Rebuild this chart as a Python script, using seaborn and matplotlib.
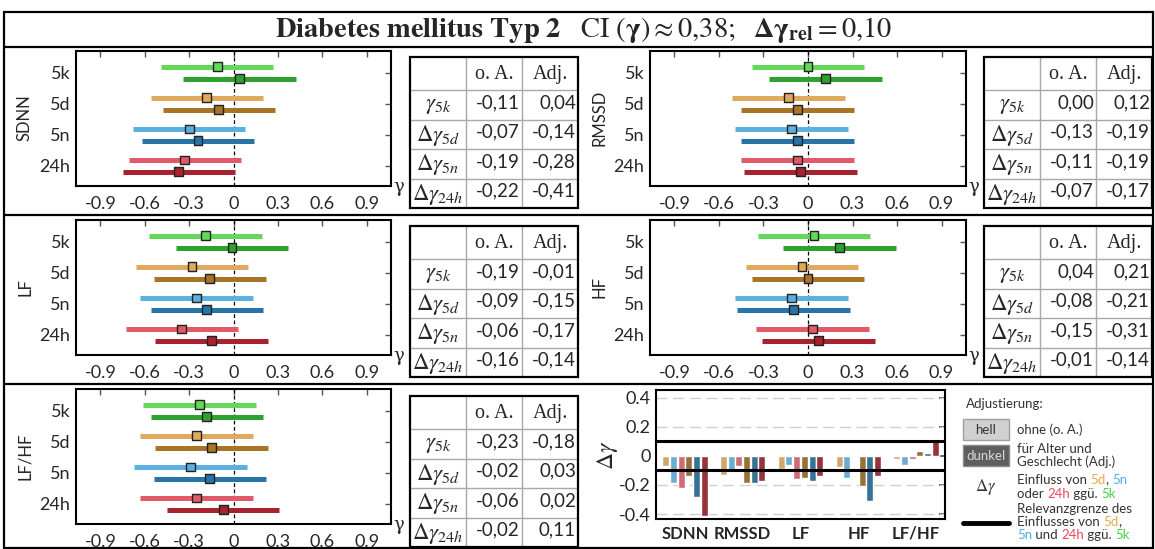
import matplotlib
matplotlib.use('Agg')
import matplotlib.pyplot as plt
import numpy as np
import pandas as pd
import seaborn as sns
from matplotlib.patches import Rectangle
from matplotlib.offsetbox import TextArea, HPacker, VPacker, AnnotationBbox

sns.set_theme(style='white')
plt.rcParams['font.family'] = ['Lato', 'DejaVu Sans']
plt.rcParams['mathtext.fontset'] = 'stix'
plt.rcParams['axes.unicode_minus'] = False

W, H = 1155, 549

# ---- data ----
times = ['5k', '5d', '5n', '24h']
metrics = ['SDNN', 'RMSSD', 'LF', 'HF', 'LF/HF']
ci_half = 0.38  # CI(gamma) ~ 0,38

# point estimates gamma (o. A. = hell, Adj. = dunkel), order 5k, 5d, 5n, 24h
sdnn_oa = [-0.11, -0.18, -0.30, -0.33]
sdnn_adj = [0.04, -0.10, -0.24, -0.37]
rmssd_oa = [0.00, -0.13, -0.11, -0.07]
rmssd_adj = [0.12, -0.07, -0.07, -0.05]
lf_oa = [-0.19, -0.28, -0.25, -0.35]
lf_adj = [-0.01, -0.16, -0.18, -0.15]
hf_oa = [0.04, -0.04, -0.11, 0.03]
hf_adj = [0.21, 0.00, -0.10, 0.07]
lfhf_oa = [-0.23, -0.25, -0.29, -0.25]
lfhf_adj = [-0.18, -0.15, -0.16, -0.07]

# table values: gamma_5k, dgamma_5d, dgamma_5n, dgamma_24h
tab_sdnn_oa = [-0.11, -0.07, -0.19, -0.22]
tab_sdnn_adj = [0.04, -0.14, -0.28, -0.41]
tab_rmssd_oa = [0.00, -0.13, -0.11, -0.07]
tab_rmssd_adj = [0.12, -0.19, -0.19, -0.17]
tab_lf_oa = [-0.19, -0.09, -0.06, -0.16]
tab_lf_adj = [-0.01, -0.15, -0.17, -0.14]
tab_hf_oa = [0.04, -0.08, -0.15, -0.01]
tab_hf_adj = [0.21, -0.21, -0.31, -0.14]
tab_lfhf_oa = [-0.23, -0.02, -0.06, -0.02]
tab_lfhf_adj = [-0.18, 0.03, 0.02, 0.11]

row_labels = [r'$\gamma_{5k}$', r'$\Delta\gamma_{5d}$', r'$\Delta\gamma_{5n}$', r'$\Delta\gamma_{24h}$']
xticks = [-0.9, -0.6, -0.3, 0, 0.3, 0.6, 0.9]
xticklabels = ['-0.9', '-0.6', '-0.3', '0', '0.3', '0.6', '0.9']

light = {'5k': '#64d85a', '5d': '#e0aa5c', '5n': '#5cb0e0', '24h': '#e05a68'}
dark = {'5k': '#2ea22e', '5d': '#a87426', '5n': '#2874a6', '24h': '#a8222f'}
palette = {}
for t in times:
    palette['oa' + t] = light[t]
    palette['adj' + t] = dark[t]

fig = plt.figure(figsize=(W / 100, H / 100), dpi=100)


def px_axes(x0, y0, x1, y1):
    return fig.add_axes([x0 / W, 1 - y1 / H, (x1 - x0) / W, (y1 - y0) / H])


def forest(ax, oa, adj):
    df = pd.DataFrame({'time': times * 2, 'kind': ['oa'] * 4 + ['adj'] * 4, 'est': oa + adj})
    df['y'] = [i - 0.19 for i in range(4)] + [i + 0.19 for i in range(4)]
    df['key'] = df['kind'] + df['time']
    cols = [palette[k] for k in df['key']]
    ax.hlines(df['y'], df['est'] - ci_half, df['est'] + ci_half, colors=cols, lw=3.6, zorder=2)
    sns.scatterplot(data=df, x='est', y='y', hue='key', palette=palette, marker='s', s=40,
                    edgecolor='#222222', linewidth=1.0, legend=False, ax=ax, zorder=3)
    ax.axvline(0, color='black', lw=0.9, ls=(0, (3, 2)), zorder=1)
    ax.set_xlim(-1.065, 1.065)
    ax.set_ylim(3.65, -0.7)
    ax.set_yticks(range(4))
    ax.set_yticklabels(times)
    ax.set_xticks(xticks)
    ax.set_xticklabels(xticklabels)
    ax.set_xlabel('')
    ax.set_ylabel('')
    ax.tick_params(direction='in', top=True, right=True, length=4, width=1, color='#555555',
                   labelsize=13, pad=4)
    ax.tick_params(axis='x', pad=7)
    for s in ax.spines.values():
        s.set_color('black')
        s.set_linewidth(1.5)
    ax.text(1.006, -0.01, 'γ', transform=ax.transAxes, family='DejaVu Serif', fontsize=13,
            ha='left', va='center')


panels = [
    ('SDNN', sdnn_oa, sdnn_adj, tab_sdnn_oa, tab_sdnn_adj, 0, 0),
    ('RMSSD', rmssd_oa, rmssd_adj, tab_rmssd_oa, tab_rmssd_adj, 1, 0),
    ('LF', lf_oa, lf_adj, tab_lf_oa, tab_lf_adj, 0, 1),
    ('HF', hf_oa, hf_adj, tab_hf_oa, tab_hf_adj, 1, 1),
    ('LF/HF', lfhf_oa, lfhf_adj, tab_lfhf_oa, tab_lfhf_adj, 0, 2),
]
col_x = [(76, 391), (650, 966)]
row_top = [51, 220, 389]
ylab_x = [25, 600]
tab_x = [410, 984]
tab_top = [57, 226, 396]

# overlay in pixel coordinates for frame, tables and legend
ov = fig.add_axes([0, 0, 1, 1])
ov.set_xlim(0, W)
ov.set_ylim(H, 0)
ov.axis('off')


def fmt(v):
    return f'{v:.2f}'.replace('.', ',')


def table(x0, y0, oa, adj):
    cw = [56, 56, 56]
    rh = [33, 29.5, 29.5, 29.5, 29.5]
    xs = np.cumsum([x0] + cw)
    ys = np.cumsum([y0] + rh)
    for xv in xs[1:-1]:
        ov.plot([xv, xv], [ys[0], ys[-1]], color='#a8a8a8', lw=1, zorder=2)
    for yv in ys[1:-1]:
        ov.plot([xs[0], xs[-1]], [yv, yv], color='#a8a8a8', lw=1, zorder=2)
    ov.add_patch(Rectangle((xs[0], ys[0]), xs[-1] - xs[0], ys[-1] - ys[0], fill=False,
                           edgecolor='black', lw=1.6, zorder=3))
    yc = (ys[:-1] + ys[1:]) / 2
    ov.text((xs[1] + xs[2]) / 2, yc[0] + 1, 'o. A.', family='Liberation Serif', fontsize=14.5,
            ha='center', va='center')
    ov.text((xs[2] + xs[3]) / 2, yc[0] + 1, 'Adj.', family='Liberation Serif', fontsize=14.5,
            ha='center', va='center')
    for i in range(4):
        ov.text((xs[0] + xs[1]) / 2, yc[i + 1] + 1, row_labels[i], fontsize=16.5, ha='center',
                va='center')
        ov.text(xs[2] - 2, yc[i + 1] - 2, fmt(oa[i]), fontsize=13.5, ha='right', va='center')
        ov.text(xs[3] - 2, yc[i + 1] - 2, fmt(adj[i]), fontsize=13.5, ha='right', va='center')


for name, oa, adj, toa, tadj, c, r in panels:
    ax = px_axes(col_x[c][0], row_top[r], col_x[c][1], row_top[r] + 135)
    forest(ax, oa, adj)
    ov.text(ylab_x[c], row_top[r] + 67, name, rotation=90, fontsize=12, ha='center', va='center')
    table(tab_x[c], tab_top[r], toa, tadj)

# ---- bar chart of delta gamma ----
series = ['oa5d', 'oa5n', 'oa24h', 'adj5d', 'adj5n', 'adj24h']
bar_pal = {'oa5d': light['5d'], 'oa5n': light['5n'], 'oa24h': light['24h'],
           'adj5d': dark['5d'], 'adj5n': dark['5n'], 'adj24h': dark['24h']}
tabs = [(tab_sdnn_oa, tab_sdnn_adj), (tab_rmssd_oa, tab_rmssd_adj), (tab_lf_oa, tab_lf_adj),
        (tab_hf_oa, tab_hf_adj), (tab_lfhf_oa, tab_lfhf_adj)]
rows = []
for m, (toa, tadj) in zip(metrics, tabs):
    for s, v in zip(series, toa[1:] + tadj[1:]):
        rows.append({'metric': m, 'series': s, 'delta': v})
bar_df = pd.DataFrame(rows)

bx = px_axes(656, 390, 945, 519)
for v in [0.4, 0.2, -0.2, -0.4]:
    bx.axhline(v, color='#d0d0d0', lw=1, ls=(0, (8, 4)), zorder=1)
sns.barplot(data=bar_df, x='metric', y='delta', hue='series', hue_order=series, order=metrics,
            palette=bar_pal, width=0.8, gap=0.1, legend=False, ax=bx, zorder=3)
for v in [0.1, -0.1]:
    bx.axhline(v, color='black', lw=2.2, zorder=4)
bx.set_ylim(-0.434, 0.452)
bx.set_xlim(-0.5, 4.5)
bx.set_yticks([0.4, 0.2, 0, -0.2, -0.4])
bx.set_yticklabels(['0.4', '0.2', '0', '-0.2', '-0.4'])
bx.set_xlabel('')
bx.set_ylabel('')
bx.tick_params(axis='y', direction='in', right=True, length=4, color='#555555', labelsize=13, pad=4)
bx.tick_params(axis='x', length=0, labelsize=12, pad=5)
for lab in bx.get_xticklabels():
    lab.set_fontweight('bold')
for s in bx.spines.values():
    s.set_color('black')
    s.set_linewidth(1.5)
ov.text(607, 455, r'$\Delta\gamma$', rotation=90, fontsize=17, ha='center', va='center')

# ---- frame and title ----
lw_frame = 1.6
ov.add_patch(Rectangle((4, 12), 1149, 536, fill=False, edgecolor='black', lw=lw_frame, zorder=5))
for yv in [47, 215, 384]:
    ov.plot([4, 1153], [yv, yv], color='black', lw=lw_frame, zorder=5)
ov.text(584, 30,
        r'$\mathbf{Diabetes\ mellitus\ Typ\ 2}\ \ \ \mathrm{CI}\ (\mathbf{\gamma})\approx 0{,}38;\ \ '
        r'\mathbf{\Delta\gamma_{rel}}=0{,}10$',
        fontsize=20.5, ha='center', va='center')

# ---- legend ----
lsize = 9.5
c5d, c5n, c24h, c5k = '#e8a848', '#4aaee8', '#e8485a', '#48d048'


def rich(lines, x, y):
    vboxes = []
    for parts in lines:
        boxes = [TextArea(t, textprops=dict(color=col, fontsize=lsize)) for t, col in parts]
        vboxes.append(HPacker(children=boxes, align='baseline', pad=0, sep=0))
    pk = VPacker(children=vboxes, align='left', pad=0, sep=1)
    ab = AnnotationBbox(pk, (x, y), xycoords='data', box_alignment=(0, 0.5), frameon=False, pad=0)
    ov.add_artist(ab)


k = '#333333'
lx, tx = 963, 1017
ov.text(lx + 3, 404, 'Adjustierung:', fontsize=lsize, color=k, ha='left', va='center')
ov.add_patch(Rectangle((lx, 419), 46, 21, facecolor='#d0d0d0', edgecolor='#a0a0a0', lw=1))
ov.text(lx + 23, 429.5, 'hell', fontsize=lsize, color=k, ha='center', va='center')
ov.text(tx, 429.5, 'ohne (o. A.)', fontsize=lsize, color=k, ha='left', va='center')
ov.add_patch(Rectangle((lx, 445), 46, 21, facecolor='#5e5e5e', edgecolor='#8a8a8a', lw=1))
ov.text(lx + 23, 455.5, 'dunkel', fontsize=lsize, color='#d8d8d8', ha='center', va='center')
rich([[('für Alter und', k)], [('Geschlecht (Adj.)', k)]], tx, 455.5)
ov.text(lx + 23, 487, r'$\Delta\gamma$', fontsize=12, color=k, ha='center', va='center')
rich([[('Einfluss von ', k), ('5d', c5d), (', ', k), ('5n', c5n)],
      [('oder ', k), ('24h', c24h), (' ggü. ', k), ('5k', c5k)]], tx, 487)
ov.plot([lx, lx + 46], [523, 523], color='black', lw=3.5)
rich([[('Relevanzgrenze des', k)],
      [('Einflusses von ', k), ('5d', c5d), (',', k)],
      [('5n', c5n), (' und ', k), ('24h', c24h), (' ggü. ', k), ('5k', c5k)]], tx, 522)

fig.savefig('out.png', dpi=100)
